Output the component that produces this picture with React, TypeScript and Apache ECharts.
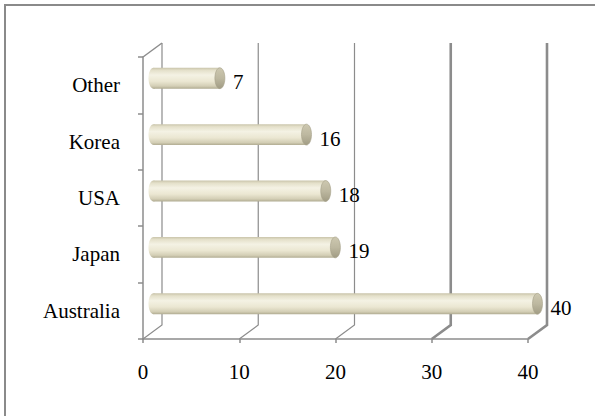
import React, { useEffect, useRef } from "react";
import * as echarts from "echarts";

const categories = ["Australia", "Japan", "USA", "Korea", "Other"];
const values = [40, 19, 18, 16, 7];
const xTicks = [0, 10, 20, 30, 40];

const DX = 19;
const DY = -14;
const FONT = "'Liberation Serif', 'Times New Roman', serif";

export default function App() {
  const ref = useRef<HTMLDivElement>(null);
  useEffect(() => {
    if (!ref.current) return;
    const chart = echarts.init(ref.current, null, { renderer: "svg" });
    const bodyFill = {
      type: "linear", x: 0, y: 0, x2: 0, y2: 1,
      colorStops: [
        { offset: 0, color: "#c9c4aa" },
        { offset: 0.12, color: "#e4e0ca" },
        { offset: 0.35, color: "#f4f2e4" },
        { offset: 0.65, color: "#ebe7d2" },
        { offset: 0.88, color: "#d3ceb5" },
        { offset: 1, color: "#b0ab91" },
      ],
    };
    const capFill = {
      type: "linear", x: 0, y: 0, x2: 0, y2: 1,
      colorStops: [
        { offset: 0, color: "#cdc8b0" },
        { offset: 0.5, color: "#bdb8a0" },
        { offset: 1, color: "#a19c84" },
      ],
    };
    chart.setOption({
      animation: false,
      backgroundColor: "#ffffff",
      graphic: [
        {
          type: "rect",
          shape: { x: 5, y: 5, width: 620, height: 440 },
          style: { fill: "none", stroke: "#8a8a8a", lineWidth: 2 },
          silent: true,
        },
      ],
      grid: { left: 143, right: 67, top: 57, bottom: 77, containLabel: false },
      xAxis: {
        type: "value",
        min: 0,
        max: 40,
        interval: 10,
        axisLine: { show: true, lineStyle: { color: "#8c8c8c", width: 1.5 } },
        axisTick: { show: true, length: 4, lineStyle: { color: "#8c8c8c", width: 1.5 } },
        splitLine: { show: false },
        axisLabel: { color: "#000", fontFamily: FONT, fontSize: 21, margin: 22 },
      },
      yAxis: {
        type: "category",
        data: categories,
        axisLine: { show: true, lineStyle: { color: "#8c8c8c", width: 1.5 } },
        axisTick: { show: true, length: 5, lineStyle: { color: "#8c8c8c", width: 1.5 } },
        splitLine: { show: false },
        axisLabel: { color: "#000", fontFamily: FONT, fontSize: 21, margin: 23 },
      },
      series: [
        {
          type: "custom",
          z: 1,
          silent: true,
          data: xTicks.map((t) => [t, 0]),
          encode: { x: 0, y: 1 },
          renderItem: (params: any, api: any) => {
            const v = api.value(0);
            const cs = params.coordSys;
            const x = api.coord([v, 0])[0];
            const top = cs.y;
            const bottom = cs.y + cs.height;
            const w = v >= 30 ? 2.6 : 1.2;
            const style = { stroke: "#8c8c8c", lineWidth: w, fill: "none" };
            const children: any[] = [
              {
                type: "polyline",
                shape: {
                  points: [
                    [x, bottom],
                    [x + DX, bottom + DY],
                    [x + DX, top + DY],
                  ],
                },
                style,
              },
            ];
            if (v === 0) {
              children.push({
                type: "line",
                shape: { x1: x, y1: top, x2: x + DX, y2: top + DY },
                style: { stroke: "#8c8c8c", lineWidth: 1.5 },
              });
            }
            return { type: "group", children };
          },
        },
        {
          type: "custom",
          z: 3,
          silent: true,
          data: values.map((v, i) => [v, i]),
          encode: { x: 0, y: 1 },
          renderItem: (params: any, api: any) => {
            const v = api.value(0);
            const c = api.value(1);
            const end = api.coord([v, c]);
            const start = api.coord([0, c]);
            const band = api.size([0, 1])[1];
            const h = band * 0.37;
            const x0 = start[0] + DX / 2;
            const x1 = end[0] + DX / 2;
            const cy = end[1] + DY / 2;
            return {
              type: "group",
              children: [
                {
                  type: "ellipse",
                  shape: { cx: x0 + 1, cy, rx: 5, ry: h / 2 },
                  style: { fill: bodyFill },
                },
                {
                  type: "rect",
                  shape: { x: x0 + 1, y: cy - h / 2, width: x1 - x0 - 1, height: h },
                  style: { fill: bodyFill },
                },
                {
                  type: "ellipse",
                  shape: { cx: x1, cy, rx: 5, ry: h / 2 },
                  style: { fill: capFill, stroke: "#a49f88", lineWidth: 0.6 },
                },
                {
                  type: "text",
                  style: {
                    x: x1 + 13,
                    y: cy + 4,
                    text: String(v),
                    fill: "#000",
                    font: `21px ${FONT}`,
                    align: "left",
                    verticalAlign: "middle",
                  },
                },
              ],
            };
          },
        },
      ],
    });
    return () => chart.dispose();
  }, []);
  return (
    <div
      ref={ref}
      style={{ position: "absolute", left: 0, top: 0, width: 595, height: 416, background: "#fff" }}
    />
  );
}
